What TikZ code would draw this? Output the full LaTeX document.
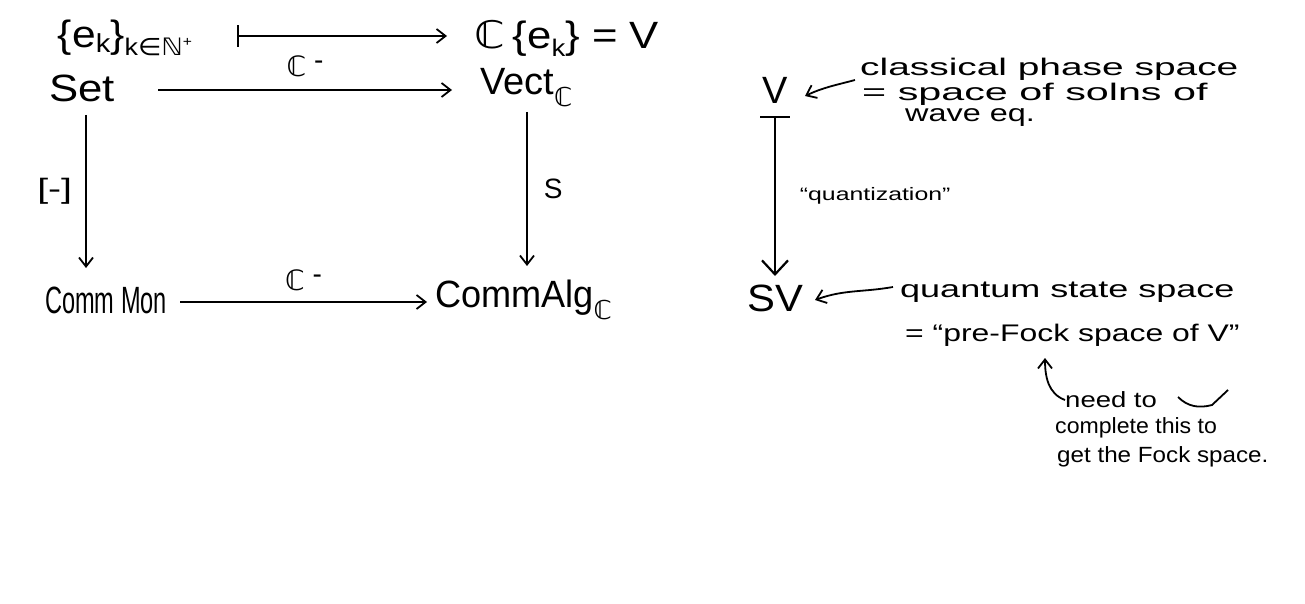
\documentclass[tikz,border=0pt]{standalone}
\usepackage{fontspec}
\setmainfont{Liberation Sans}
\newfontfamily\sym{DejaVu Sans}
\usetikzlibrary{arrows.meta}
\newcommand{\CC}{{\sym ℂ}}
\newcommand{\hx}[2]{\scalebox{#1}[1]{#2}}
\tikzset{
  big/.style={font=\fontsize{38}{40}\selectfont, inner sep=0pt, anchor=center},
  note/.style={font=\fontsize{24}{25}\selectfont, inner sep=0pt, anchor=west},
  small/.style={font=\fontsize{22}{23}\selectfont, inner sep=0pt, anchor=west},
  arr/.style={line width=1.8pt, -{Straight Barb[length=9pt,width=14pt,line width=1.8pt]}},
  bigarr/.style={line width=1.8pt, {Bar[width=30pt,line width=2pt]}-{Straight Barb[length=14pt,width=26pt,line width=2.2pt]}},
  maparr/.style={line width=1.8pt, {Bar[width=22pt,line width=1.8pt]}-{Straight Barb[length=9pt,width=14pt,line width=1.8pt]}},
  lbl/.style={font=\fontsize{28}{30}\selectfont, inner sep=0pt}
}
\begin{document}
\begin{tikzpicture}[x=1pt,y=-1pt]
\useasboundingbox (0,0) rectangle (1305,604);
% top row
\node[big] (ek) at (125,38) {\hx{1.12}{\{e\raisebox{-0.25ex}{\fontsize{26}{26}\selectfont k}\}\raisebox{-0.4ex}{\fontsize{24}{24}\selectfont k{\sym ∈ℕ}\raisebox{0.7ex}{\fontsize{14}{14}\selectfont +}}}};
\node[big] (cek) at (567,38) {\hx{1.15}{\CC\,\{e\raisebox{-0.4ex}{\fontsize{24}{24}\selectfont k}\} = V}};
\coordinate (m1) at (237,36);
\coordinate (m2) at (447,36);
\draw[maparr] (m1) -- (m2);
% square
\node[big] (set) at (82,88) {\hx{1.15}{Set}};
\node[big, anchor=west] (vect) at (480,88) {Vect\raisebox{-0.6ex}{\fontsize{26}{26}\selectfont\CC}};
\node[big, anchor=west] (cmon) at (45,300) {\hx{0.62}{Comm Mon}};
\node[big, anchor=west] (calg) at (435,300) {\hx{0.95}{CommAlg}\raisebox{-0.6ex}{\fontsize{26}{26}\selectfont\CC}};
\coordinate (s1) at (158,90);
\coordinate (s2) at (452,90);
\draw[arr] (s1) -- node[lbl, above=12pt] {\CC\raisebox{0.5ex}{ -}} (s2);
\coordinate (l1) at (86,115);
\coordinate (l2) at (86,268);
\draw[arr] (l1) -- node[lbl, left=13pt] {\hx{1.4}{[-]}} (l2);
\coordinate (r1) at (527,112);
\coordinate (r2) at (527,266);
\draw[arr] (r1) -- node[lbl, right=16pt] {S} (r2);
\coordinate (b1) at (180,302);
\coordinate (b2) at (427,302);
\draw[arr] (b1) -- node[lbl, above=10pt] {\CC\raisebox{0.5ex}{ -}} (b2);
% right column
\node[big] (V) at (775,90) {V};
\node[big] (SV) at (775,298) {\hx{1.1}{SV}};
\coordinate (q1) at (775,116);
\coordinate (q2) at (775,276);
\draw[bigarr] (q1) -- node[font=\fontsize{18}{20}\selectfont, right=24pt, inner sep=0pt] {\hx{1.38}{``quantization''}} (q2);
% notes
\node[note] (cl1) at (860,69) {\hx{1.62}{classical phase space}};
\node[note] (cl2) at (862,94) {\hx{1.72}{= space of solns of}};
\node[note] (cl3) at (905,118) {\hx{1.35}{wave eq.}};
\coordinate (ca) at (855,80);
\coordinate (ct) at (805,96);
\draw[arr] (ca) to[out=195,in=25] (ct);
\node[note] (qs1) at (900,292) {\hx{1.5}{quantum state space}};
\node[note] (qs2) at (905,335) {\hx{1.33}{= ``pre-Fock space of V''}};
\coordinate (qa) at (893,287);
\coordinate (qt) at (815,300);
\draw[arr] (qa) to[out=190,in=20] (qt);
\node[small] (n1) at (1065,400) {\hx{1.25}{need to}};
\node[small] (n2) at (1055,428) {\hx{1.05}{complete this to}};
\node[small] (n3) at (1057,457) {\hx{1.1}{get the Fock space.}};
\coordinate (ht) at (1045,358);
\draw[arr] (n1.west) to[out=160,in=-90] (ht);
\coordinate (w1) at (1178,397);
\coordinate (w2) at (1228,390);
\draw[line width=1.8pt] (w1) to[out=-45,in=195] (1212,405) -- (w2);
\end{tikzpicture}
\end{document}
